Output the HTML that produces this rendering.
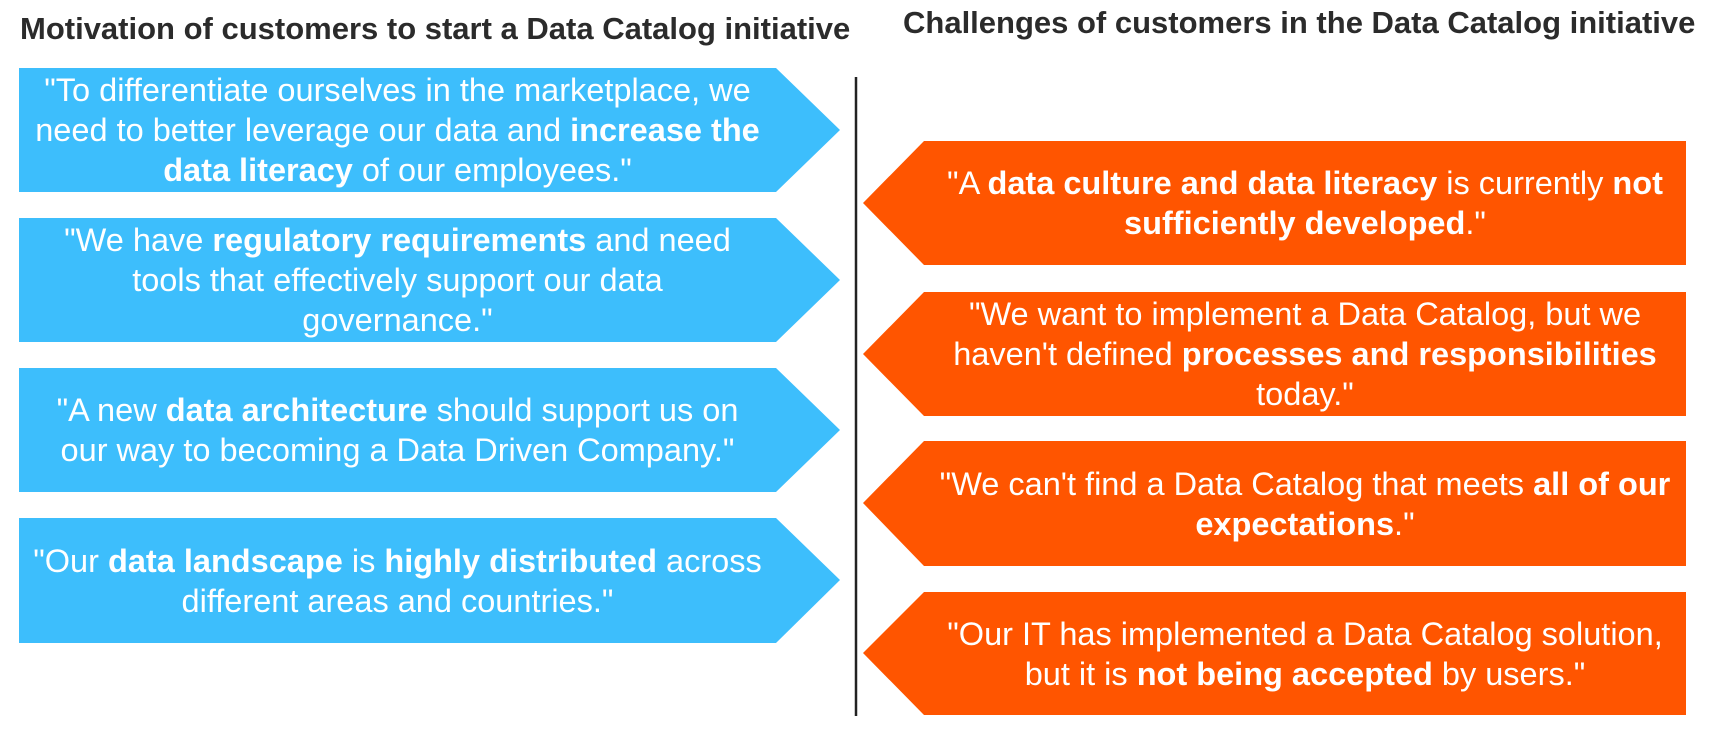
<!DOCTYPE html>
<html><head><meta charset="utf-8"><style>
html,body{margin:0;padding:0;background:#fff;}
body{width:1726px;height:738px;position:relative;overflow:hidden;font-family:"Liberation Sans",sans-serif;}
.t{position:absolute;font-size:31px;font-weight:bold;color:#2b2b2b;white-space:nowrap;}
.box{position:absolute;display:flex;align-items:center;justify-content:center;color:#fff;font-size:32.5px;line-height:40px;}
.box>div{text-align:center;white-space:nowrap;}
b{font-weight:bold;}
</style></head><body>
<svg width="1726" height="738" style="position:absolute;left:0;top:0">
<g fill="#3dbefc">
<polygon points="19,68 776,68 840,130 776,192 19,192"/>
<polygon points="19,218 776,218 840,280 776,342 19,342"/>
<polygon points="19,368 776,368 840,430 776,492 19,492"/>
<polygon points="19,518 776,518 840,580 776,643 19,643"/>
</g>
<line x1="856" y1="77" x2="856" y2="716" stroke="#222" stroke-width="2.5"/>
<g fill="#ff5500">
<polygon points="924,141 1686,141 1686,265 924,265 863,203"/>
<polygon points="924,292 1686,292 1686,416 924,416 863,354"/>
<polygon points="924,441 1686,441 1686,566 924,566 863,503"/>
<polygon points="924,592 1686,592 1686,715 924,715 863,653"/>
</g>
</svg>
<div class="t" style="left:20px;top:11px">Motivation of customers to start a Data Catalog initiative</div>
<div class="t" style="left:903px;top:5px">Challenges of customers in the Data Catalog initiative</div>
<div class="box" style="left:19px;top:68px;width:757px;height:124px"><div>"To differentiate ourselves in the marketplace, we<br>need to better leverage our data and <b>increase the</b><br><b>data literacy</b> of our employees."</div></div>
<div class="box" style="left:19px;top:218px;width:757px;height:124px"><div>"We have <b>regulatory requirements</b> and need<br>tools that effectively support our data<br>governance."</div></div>
<div class="box" style="left:19px;top:368px;width:757px;height:124px"><div>"A new <b>data architecture</b> should support us on<br>our way to becoming a Data Driven Company."</div></div>
<div class="box" style="left:19px;top:518px;width:757px;height:125px"><div>"Our <b>data landscape</b> is <b>highly distributed</b> across<br>different areas and countries."</div></div>
<div class="box" style="left:924px;top:141px;width:762px;height:124px"><div>"A <b>data culture and data literacy</b> is currently <b>not</b><br><b>sufficiently developed</b>."</div></div>
<div class="box" style="left:924px;top:292px;width:762px;height:124px"><div>"We want to implement a Data Catalog, but we<br>haven't defined <b>processes and responsibilities</b><br>today."</div></div>
<div class="box" style="left:924px;top:441px;width:762px;height:125px"><div>"We can't find a Data Catalog that meets <b>all of our</b><br><b>expectations</b>."</div></div>
<div class="box" style="left:924px;top:592px;width:762px;height:123px"><div>"Our IT has implemented a Data Catalog solution,<br>but it is <b>not being accepted</b> by users."</div></div>
</body></html>
